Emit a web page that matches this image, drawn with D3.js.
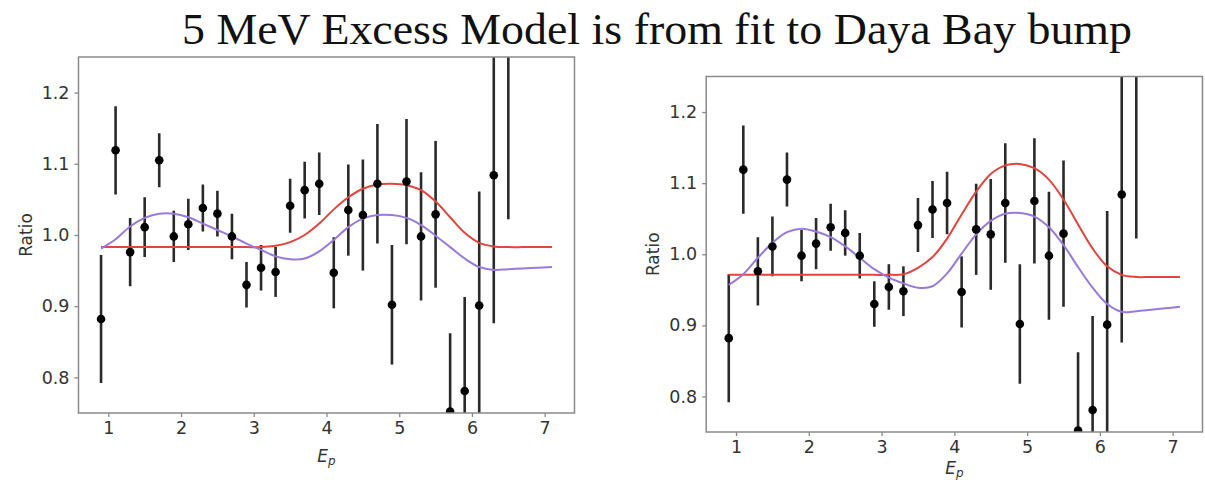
<!DOCTYPE html>
<html>
<head>
<meta charset="utf-8">
<script src="https://cdn.jsdelivr.net/npm/d3@7"></script>
<style>
  body { margin: 0; background: #fff; }
  .tick text { font-family: "DejaVu Sans", sans-serif; font-size: 17.5px; fill: #333; }
  .tick line { stroke: #888; stroke-width: 1.3; }
</style>
</head>
<body>
<script>
//canvas size
var w = 1205, h = 484;

//measured points (same in both panels)
var energy = [0.9, 1.1, 1.3, 1.5, 1.7, 1.9, 2.1, 2.3, 2.5, 2.7, 2.9, 3.1, 3.3, 3.5, 3.7,
              3.9, 4.1, 4.3, 4.5, 4.7, 4.9, 5.1, 5.3, 5.5, 5.7, 5.9, 6.1, 6.3, 6.5];
var ratio = [0.882, 1.119, 0.976, 1.011, 1.105, 0.998, 1.015, 1.038, 1.030, 0.998, 0.930, 0.954, 0.948, 1.041, 1.063,
             1.072, 0.947, 1.035, 1.028, 1.072, 0.902, 1.075, 0.998, 1.029, 0.752, 0.781, 0.901, 1.084, 1.300];
var ratioErr = [0.090, 0.062, 0.048, 0.042, 0.038, 0.036, 0.036, 0.033, 0.032, 0.032, 0.032, 0.032, 0.035, 0.038, 0.040,
                0.044, 0.050, 0.064, 0.078, 0.084, 0.084, 0.088, 0.090, 0.103, 0.110, 0.132, 0.160, 0.208, 0.278];

//model curves, read at the same energies
var modelEnergy = [0.9, 1.1, 1.3, 1.5, 1.7, 1.9, 2.1, 2.3, 2.5, 2.7, 2.9, 3.1, 3.3, 3.5, 3.7, 3.9,
                   4.1, 4.3, 4.5, 4.7, 4.9, 5.1, 5.3, 5.5, 5.7, 5.9, 6.1, 6.3, 6.5, 6.7, 6.9, 7.1];
var leftRed = [0.983, 0.983, 0.983, 0.983, 0.983, 0.983, 0.983, 0.983, 0.983, 0.983, 0.983, 0.983, 0.985, 0.990, 1.000, 1.016,
               1.036, 1.053, 1.065, 1.071, 1.072, 1.070, 1.063, 1.047, 1.025, 1.003, 0.989, 0.984, 0.983, 0.983, 0.983, 0.983];
var leftPurple = [0.981, 0.994, 1.012, 1.024, 1.030, 1.030, 1.025, 1.016, 1.007, 0.998, 0.988, 0.979, 0.970, 0.966, 0.967, 0.977,
                  0.993, 1.011, 1.023, 1.028, 1.028, 1.024, 1.014, 0.999, 0.983, 0.967, 0.955, 0.951, 0.952, 0.953, 0.954, 0.955];
var rightRed = [0.971, 0.971, 0.971, 0.971, 0.971, 0.971, 0.971, 0.971, 0.971, 0.971, 0.971, 0.971, 0.972, 0.981, 0.996, 1.022,
                1.056, 1.088, 1.113, 1.125, 1.127, 1.121, 1.105, 1.077, 1.042, 1.008, 0.983, 0.971, 0.968, 0.968, 0.968, 0.968];
var rightPurple = [0.957, 0.972, 0.995, 1.016, 1.031, 1.036, 1.032, 1.024, 1.011, 0.995, 0.979, 0.967, 0.959, 0.953, 0.955, 0.973,
                   1.001, 1.028, 1.047, 1.057, 1.058, 1.053, 1.038, 1.013, 0.982, 0.953, 0.930, 0.919, 0.920, 0.922, 0.924, 0.926];

//tick labels
var xTicks = [1, 2, 3, 4, 5, 6, 7];
var yTicks = [0.8, 0.9, 1.0, 1.1, 1.2];

var titleText = "5 MeV Excess Model is from fit to Daya Bay bump";

window.onload = function(){

    var svg = d3.select("body")
        .append("svg")
        .attr("width", w)
        .attr("height", h);

    //title on top of both panels
    svg.append("text")
        .attr("x", 182)
        .attr("y", 44)
        .attr("textLength", 950)
        .attr("lengthAdjust", "spacingAndGlyphs")
        .style("font-family", "'Liberation Serif', serif")
        .style("font-size", "45px")
        .style("fill", "#111")
        .text(titleText);

    //last arg = offset of the x label below the frame (right one sits at the page edge)
    drawPanel(svg, "left", {left: 78.5, right: 574.5, top: 57, bottom: 413}, leftRed, leftPurple, 49);
    drawPanel(svg, "right", {left: 706.2, right: 1202.5, top: 76.5, bottom: 432}, rightRed, rightPurple, 42);
};

function drawPanel(svg, id, box, red, purple, labelOffset){

    var x = d3.scaleLinear()
        .domain([0.59, 7.41])
        .range([box.left, box.right]);

    var y = d3.scaleLinear()
        .domain([0.75, 1.25])
        .range([box.bottom, box.top]);

    //clip everything to the frame like matplotlib does
    svg.append("clipPath")
        .attr("id", "clip-" + id)
        .append("rect")
        .attr("x", box.left)
        .attr("y", box.top)
        .attr("width", box.right - box.left)
        .attr("height", box.bottom - box.top);

    var plot = svg.append("g")
        .attr("clip-path", "url(#clip-" + id + ")");

    var points = energy.map(function(e, i){
        return {e: e, r: ratio[i], err: ratioErr[i]};
    });

    //error bars
    plot.selectAll(".bar")
        .data(points)
        .enter()
        .append("line")
        .attr("class", "bar")
        .attr("x1", function(d){ return x(d.e); })
        .attr("x2", function(d){ return x(d.e); })
        .attr("y1", function(d){ return y(d.r - d.err); })
        .attr("y2", function(d){ return y(d.r + d.err); })
        .style("stroke", "#2a2a2a")
        .style("stroke-width", 2.6);

    //model lines
    var line = d3.line()
        .x(function(d){ return x(d[0]); })
        .y(function(d){ return y(d[1]); })
        .curve(d3.curveCatmullRom);

    plot.append("path")
        .datum(d3.zip(modelEnergy, red))
        .attr("d", line)
        .style("fill", "none")
        .style("stroke", "#e5443c")
        .style("stroke-width", 2);

    plot.append("path")
        .datum(d3.zip(modelEnergy, purple))
        .attr("d", line)
        .style("fill", "none")
        .style("stroke", "#9a78dc")
        .style("stroke-width", 2);

    //data points
    plot.selectAll(".pt")
        .data(points)
        .enter()
        .append("circle")
        .attr("class", "pt")
        .attr("cx", function(d){ return x(d.e); })
        .attr("cy", function(d){ return y(d.r); })
        .attr("r", 4.3)
        .style("fill", "#000");

    //axes
    svg.append("g")
        .attr("transform", "translate(0," + box.bottom + ")")
        .call(d3.axisBottom(x).tickValues(xTicks).tickSize(4).tickPadding(5).tickFormat(d3.format("d")))
        .call(function(g){ g.select(".domain").remove(); });

    svg.append("g")
        .attr("transform", "translate(" + box.left + ",0)")
        .call(d3.axisLeft(y).tickValues(yTicks).tickSize(4).tickPadding(5).tickFormat(d3.format(".1f")))
        .call(function(g){ g.select(".domain").remove(); });

    //frame
    svg.append("rect")
        .attr("x", box.left)
        .attr("y", box.top)
        .attr("width", box.right - box.left)
        .attr("height", box.bottom - box.top)
        .style("fill", "none")
        .style("stroke", "#8a8a8a")
        .style("stroke-width", 1.5);

    //y label
    svg.append("text")
        .attr("transform", "translate(" + (box.left - 47) + "," + ((box.top + box.bottom) / 2) + ") rotate(-90)")
        .attr("text-anchor", "middle")
        .style("font-family", "'DejaVu Sans', sans-serif")
        .style("font-size", "17px")
        .style("fill", "#333")
        .text("Ratio");

    //x label E_p
    var xl = svg.append("text")
        .attr("x", (box.left + box.right) / 2)
        .attr("y", box.bottom + labelOffset)
        .attr("text-anchor", "middle")
        .style("font-family", "'DejaVu Sans', sans-serif")
        .style("font-size", "17px")
        .style("font-style", "italic")
        .style("fill", "#333");
    xl.append("tspan").text("E");
    xl.append("tspan")
        .attr("dy", 3)
        .style("font-size", "12px")
        .text("p");
}
</script>
</body>
</html>
